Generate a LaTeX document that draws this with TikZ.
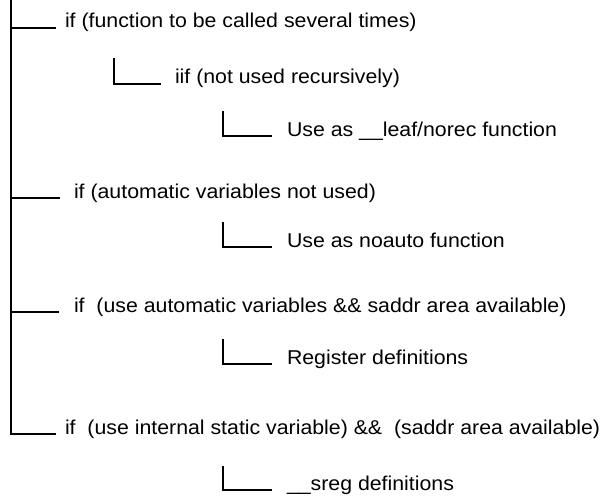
\documentclass[tikz,border=0pt]{standalone}
\usepackage{fontspec}
\setmainfont[FakeStretch=1.065]{Liberation Sans}
\begin{document}
\begin{tikzpicture}[x=1pt,y=-1pt,
  lbl/.style={anchor=base west,inner sep=0pt,outer sep=0pt,font=\fontsize{20}{24}\selectfont},
  ln/.style={line width=1.9pt,line cap=rect}]
\useasboundingbox (0,0) rectangle (602,495);
% main bracket
\coordinate (m0) at (11,0);
\coordinate (m1) at (11,28);
\coordinate (m4) at (11,198);
\coordinate (m6) at (11,312);
\coordinate (m8) at (11,434);
\coordinate (e1) at (55,28);
\coordinate (e4) at (59,198);
\coordinate (e6) at (58,312);
\coordinate (e8) at (55,434);
\node[lbl] (t1) at (65,28) {if (function to be called several times)};
\node[lbl] (t4) at (74,198) {if (automatic variables not used)};
\node[lbl] (t6) at (74,312) {if\ \ (use automatic variables \&\& saddr area available)};
\node[lbl] (t8) at (65,434) {if\ \ (use internal static variable) \&\&\ \ (saddr area available)};
\draw[ln] (m0) -- (m8) -- (e8);
\draw[ln] (m1) -- (e1);
\draw[ln] (m4) -- (e4);
\draw[ln] (m6) -- (e6);
% sub brackets
\coordinate (s2) at (114,59);  \coordinate (c2) at (114,84);  \coordinate (f2) at (160,84);
\node[lbl] (t2) at (175,84) {iif (not used recursively)};
\draw[ln] (s2) -- (c2) -- (f2);
\coordinate (s3) at (223,112); \coordinate (c3) at (223,136); \coordinate (f3) at (271,136);
\node[lbl] (t3) at (287,136) {Use as \_\_leaf/norec function};
\draw[ln] (s3) -- (c3) -- (f3);
\coordinate (s5) at (223,223); \coordinate (c5) at (223,247); \coordinate (f5) at (271,247);
\node[lbl] (t5) at (287,247) {Use as noauto function};
\draw[ln] (s5) -- (c5) -- (f5);
\coordinate (s7) at (223,340); \coordinate (c7) at (223,364); \coordinate (f7) at (271,364);
\node[lbl] (t7) at (287,364) {Register definitions};
\draw[ln] (s7) -- (c7) -- (f7);
\coordinate (s9) at (223,467); \coordinate (c9) at (223,490); \coordinate (f9) at (271,490);
\node[lbl] (t9) at (287,490) {\_\_sreg definitions};
\draw[ln] (s9) -- (c9) -- (f9);
\end{tikzpicture}
\end{document}
